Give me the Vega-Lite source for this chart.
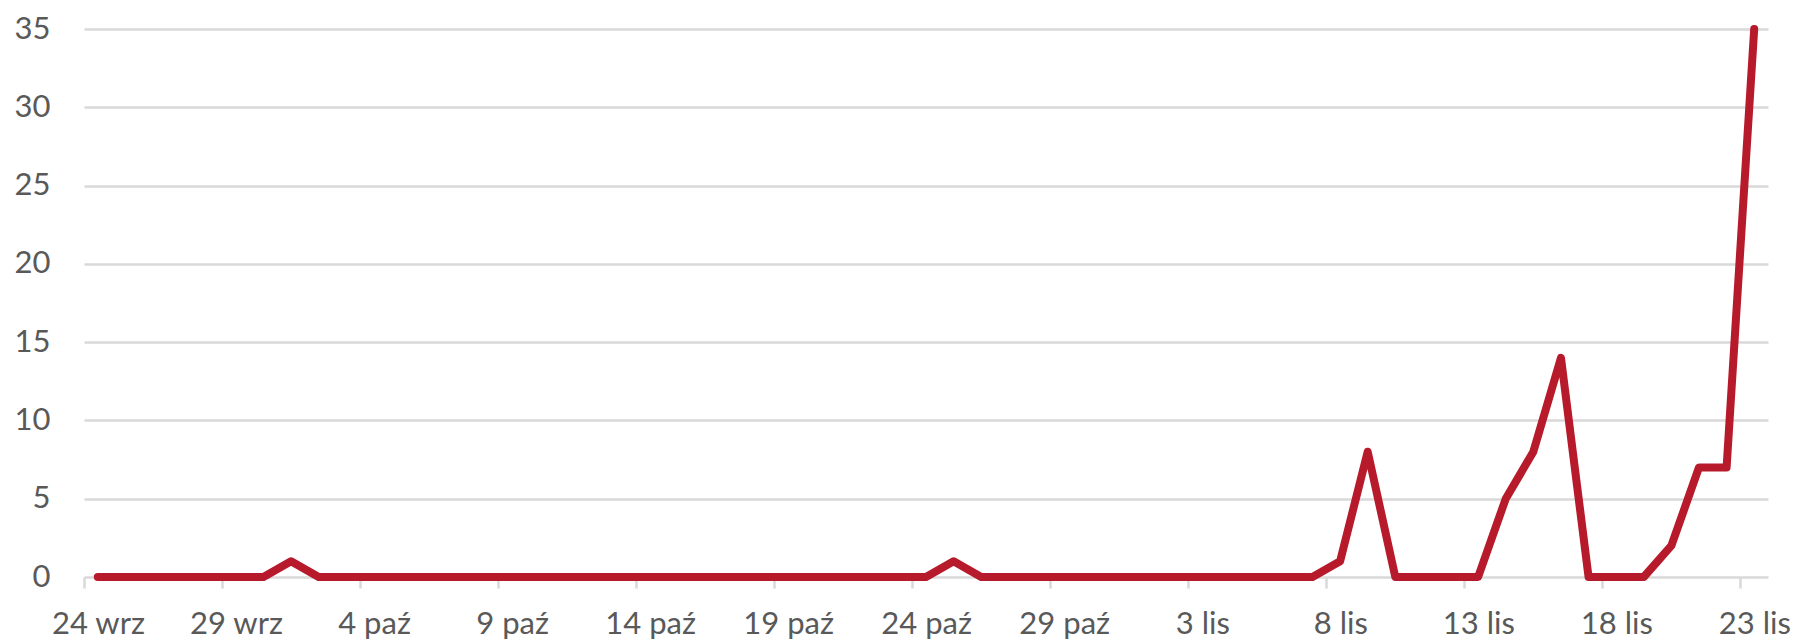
{
  "$schema": "https://vega.github.io/schema/vega-lite/v6.json",
  "autosize": "none",
  "width": 1684,
  "height": 548,
  "padding": {"left": 84, "top": 29, "right": 31, "bottom": 66},
  "background": "white",
  "config": {
    "view": {"stroke": null},
    "font": "Lato",
    "axis": {"labelFont": "Lato", "labelFontSize": 31, "labelColor": "#595959"}
  },
  "data": {
    "values": [
      {"date": "2020/09/24", "value": 0}, {"date": "2020/09/25", "value": 0}, {"date": "2020/09/26", "value": 0},
      {"date": "2020/09/27", "value": 0}, {"date": "2020/09/28", "value": 0}, {"date": "2020/09/29", "value": 0},
      {"date": "2020/09/30", "value": 0}, {"date": "2020/10/01", "value": 1}, {"date": "2020/10/02", "value": 0},
      {"date": "2020/10/03", "value": 0}, {"date": "2020/10/04", "value": 0}, {"date": "2020/10/05", "value": 0},
      {"date": "2020/10/06", "value": 0}, {"date": "2020/10/07", "value": 0}, {"date": "2020/10/08", "value": 0},
      {"date": "2020/10/09", "value": 0}, {"date": "2020/10/10", "value": 0}, {"date": "2020/10/11", "value": 0},
      {"date": "2020/10/12", "value": 0}, {"date": "2020/10/13", "value": 0}, {"date": "2020/10/14", "value": 0},
      {"date": "2020/10/15", "value": 0}, {"date": "2020/10/16", "value": 0}, {"date": "2020/10/17", "value": 0},
      {"date": "2020/10/18", "value": 0}, {"date": "2020/10/19", "value": 0}, {"date": "2020/10/20", "value": 0},
      {"date": "2020/10/21", "value": 0}, {"date": "2020/10/22", "value": 0}, {"date": "2020/10/23", "value": 0},
      {"date": "2020/10/24", "value": 0}, {"date": "2020/10/25", "value": 1}, {"date": "2020/10/26", "value": 0},
      {"date": "2020/10/27", "value": 0}, {"date": "2020/10/28", "value": 0}, {"date": "2020/10/29", "value": 0},
      {"date": "2020/10/30", "value": 0}, {"date": "2020/10/31", "value": 0}, {"date": "2020/11/01", "value": 0},
      {"date": "2020/11/02", "value": 0}, {"date": "2020/11/03", "value": 0}, {"date": "2020/11/04", "value": 0},
      {"date": "2020/11/05", "value": 0}, {"date": "2020/11/06", "value": 0}, {"date": "2020/11/07", "value": 0},
      {"date": "2020/11/08", "value": 1}, {"date": "2020/11/09", "value": 8}, {"date": "2020/11/10", "value": 0},
      {"date": "2020/11/11", "value": 0}, {"date": "2020/11/12", "value": 0}, {"date": "2020/11/13", "value": 0},
      {"date": "2020/11/14", "value": 5}, {"date": "2020/11/15", "value": 8}, {"date": "2020/11/16", "value": 14},
      {"date": "2020/11/17", "value": 0}, {"date": "2020/11/18", "value": 0}, {"date": "2020/11/19", "value": 0},
      {"date": "2020/11/20", "value": 2}, {"date": "2020/11/21", "value": 7}, {"date": "2020/11/22", "value": 7},
      {"date": "2020/11/23", "value": 35}
    ]
  },
  "mark": {"type": "line", "color": "#B71A2B", "strokeWidth": 8, "strokeJoin": "round", "strokeCap": "round", "clip": false},
  "encoding": {
    "x": {
      "field": "date",
      "type": "temporal",
      "timeUnit": "yearmonthdate",
      "bandPosition": 0.5,
      "title": null,
      "scale": {
        "domain": [
          {"year": 2020, "month": "sep", "date": 24},
          {"year": 2020, "month": "nov", "date": 24}
        ]
      },
      "axis": {
        "values": [
          {"year": 2020, "month": "sep", "date": 24},
          {"year": 2020, "month": "sep", "date": 29},
          {"year": 2020, "month": "oct", "date": 4},
          {"year": 2020, "month": "oct", "date": 9},
          {"year": 2020, "month": "oct", "date": 14},
          {"year": 2020, "month": "oct", "date": 19},
          {"year": 2020, "month": "oct", "date": 24},
          {"year": 2020, "month": "oct", "date": 29},
          {"year": 2020, "month": "nov", "date": 3},
          {"year": 2020, "month": "nov", "date": 8},
          {"year": 2020, "month": "nov", "date": 13},
          {"year": 2020, "month": "nov", "date": 18},
          {"year": 2020, "month": "nov", "date": 23}
        ],
        "labelExpr": "date(datum.value) + ' ' + ['sty','lut','mar','kwi','maj','cze','lip','sie','wrz','paź','lis','gru'][month(datum.value)]",
        "labelOffset": 14,
        "labelPadding": 21,
        "labelFlush": false,
        "labelOverlap": false,
        "grid": false,
        "domain": false,
        "ticks": true,
        "tickSize": 11,
        "tickColor": "#D9D9D9",
        "tickWidth": 2.5
      }
    },
    "y": {
      "field": "value",
      "type": "quantitative",
      "title": null,
      "scale": {"domain": [0, 35], "nice": false},
      "axis": {
        "values": [0, 5, 10, 15, 20, 25, 30, 35],
        "grid": true,
        "gridColor": "#D9D9D9",
        "gridWidth": 2.5,
        "domain": false,
        "ticks": false,
        "labelPadding": 34
      }
    }
  }
}
